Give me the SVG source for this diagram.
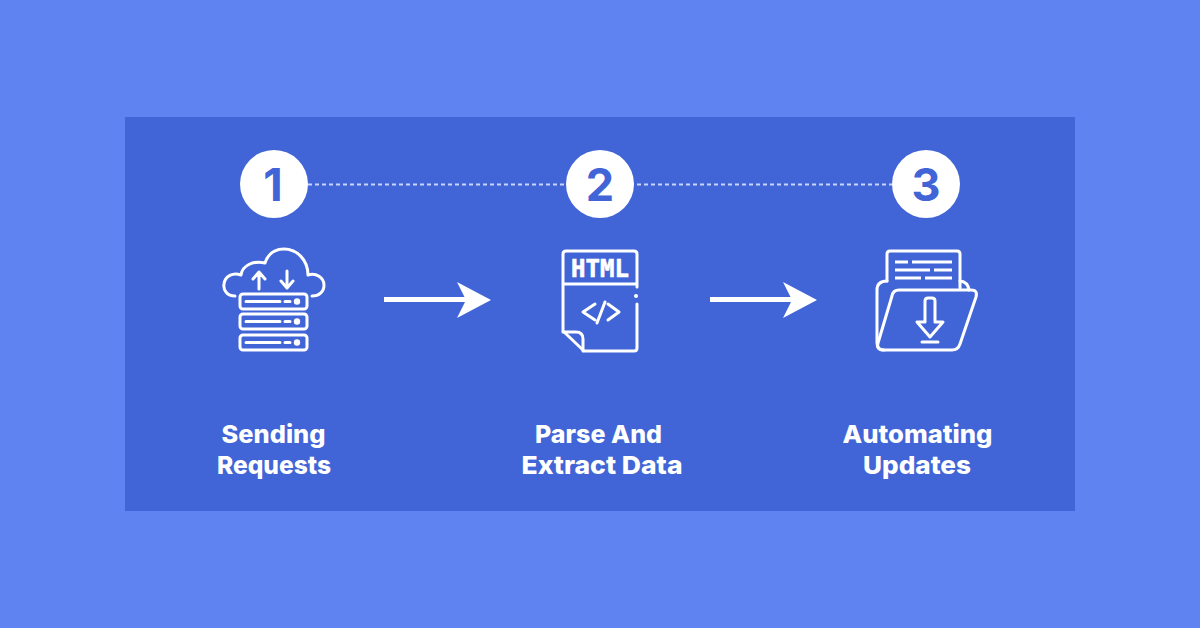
<svg xmlns="http://www.w3.org/2000/svg" width="1200" height="628" viewBox="0 0 1200 628">
<style>
.ic{fill:none;stroke:#fff;stroke-width:3;stroke-linecap:round;stroke-linejoin:round}
.n{fill:#fff}
.num{font-family:Inter,"Liberation Sans",sans-serif;font-weight:700;font-size:45px;fill:#4165d6;text-anchor:middle}
.lb{font-family:Inter,"Liberation Sans",sans-serif;font-weight:800;font-size:25px;fill:#fff;text-anchor:middle}
</style>
<rect width="1200" height="628" fill="#5f84f2"/>
<rect x="125" y="117" width="950" height="394" fill="#4165d6"/>
<g id="connectors">
<line x1="308" y1="184.5" x2="892" y2="184.5" stroke="#c9d5f8" stroke-width="2" stroke-dasharray="4 3"/>
<path d="M384 299.5H482" stroke="#fff" stroke-width="5" fill="none"/>
<path d="M457 282L491 300L457 318L466 300Z" fill="#fff"/>
<path d="M710 299.5H808" stroke="#fff" stroke-width="5" fill="none"/>
<path d="M783 282L817 300L783 318L792 300Z" fill="#fff"/>
</g>
<g id="node-1">
<circle class="n" cx="274" cy="184" r="34"/>
<text class="num" x="273" y="201">1</text>
<g class="ic">
<path d="M235 296C227 296 223 290 224 284C225 276 233 272 241 275C242 266 253 260 265 263C268 254 275 249 284 249C297 249 308 260 308 275C316 272 324 278 324 285C324 292 319 296 312 296"/>
<rect x="240" y="294" width="67" height="15" rx="3"/>
<rect x="240" y="314" width="67" height="15" rx="3"/>
<rect x="240" y="335" width="67" height="15" rx="3"/>
<path d="M246 301.500H280M285 301.500H290M246 321.500H280M285 321.500H290M246 342.500H280M285 342.500H290"/>
<path d="M259 289V273M253 279L259 272L265 279M287 271V287M281 281L287 288L293 281"/>
</g>
<circle class="n" cx="297" cy="301.500" r="3.200"/>
<circle class="n" cx="297" cy="321.500" r="3.200"/>
<circle class="n" cx="297" cy="342.500" r="3.200"/>
<text class="lb" x="273.500" y="443" textLength="104" lengthAdjust="spacingAndGlyphs">Sending</text>
<text class="lb" x="274" y="474" textLength="114" lengthAdjust="spacingAndGlyphs">Requests</text>
</g>
<g id="node-2">
<circle class="n" cx="600" cy="184" r="34"/>
<text class="num" x="600" y="201">2</text>
<g class="ic">
<path d="M637 287V254Q637 251 634 251H566Q563 251 563 254V331L584 351H634Q637 351 637 348V304M563 284H637"/>
<path d="M563 332H576Q583 332 583 339V351"/>
<path d="M595 304L583 312L595 320M605 302L597 323M608 304L619 312L608 320"/>
</g>
<circle class="n" cx="636" cy="296" r="2"/>
<text x="600" y="277" font-family="DejaVu Sans Mono,monospace" font-weight="700" font-size="24" fill="#fff" stroke="#fff" stroke-width=".6" text-anchor="middle">HTML</text>
<text class="lb" x="598.500" y="443" textLength="127" lengthAdjust="spacingAndGlyphs">Parse And</text>
<text class="lb" x="602" y="474" textLength="161" lengthAdjust="spacingAndGlyphs">Extract Data</text>
</g>
<g id="node-3">
<circle class="n" cx="926" cy="184" r="34"/>
<text class="num" x="926" y="201">3</text>
<g class="ic">
<path d="M887 281V254Q887 251 890 251H957Q960 251 960 254V288"/>
<path d="M895 262H908M912 262H952M895 270H930M934 270H952M895 278H921M925 278H952" stroke-linecap="butt"/>
<path d="M887 281Q877 281 877 290V343Q877 350 884 350M960 281Q968 282 969 290"/>
<path d="M899 290H971Q978 290 976 297L960 344Q958 350 952 350H884Q876 350 878 343L892 296Q893 290 899 290Z"/>
<path d="M925 322V301Q925 298 928 298H932Q935 298 935 301V322H943L930 337L917 322Z"/>
<path d="M922 342H938"/>
</g>
<text class="lb" x="917.500" y="443" textLength="150" lengthAdjust="spacingAndGlyphs">Automating</text>
<text class="lb" x="917" y="474" textLength="108" lengthAdjust="spacingAndGlyphs">Updates</text>
</g>
</svg>
